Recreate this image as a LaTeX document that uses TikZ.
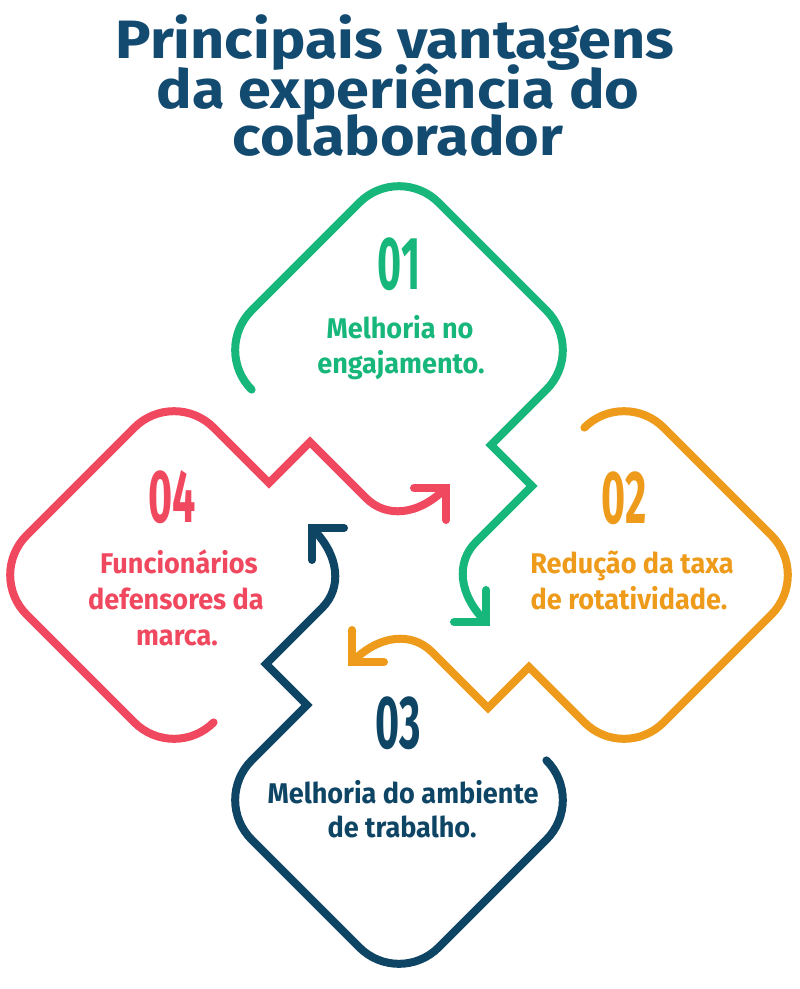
\documentclass[tikz,border=0pt]{standalone}
\usepackage{fontspec}
\setmainfont{Fira Sans}
\definecolor{greenc}{HTML}{17B67A}
\definecolor{orangec}{HTML}{EE9A1A}
\definecolor{redc}{HTML}{F0485E}
\definecolor{navyc}{HTML}{0E4565}
\definecolor{titlec}{HTML}{134A70}
\newcommand{\lx}[1]{\scalebox{0.95}[1]{#1}}
\newcommand{\nx}[1]{\scalebox{0.55}[1]{#1}}
\newcommand{\tx}[1]{\scalebox{1.1}[1]{#1}}
\tikzset{
  loopline/.style={line width=8pt, line cap=round, line join=miter, miter limit=10},
  pics/loopshape/.style={code={
    \draw[loopline, draw=#1]
      (-147.4,39.6) .. controls (-169.3,17.7) and (-169.3,-17.7) .. (-147.4,-39.6)
      -- (-39.6,-147.4) .. controls (-17.7,-169.3) and (17.7,-169.3) .. (39.6,-147.4)
      -- (147.4,-39.6) .. controls (169.3,-17.7) and (169.3,17.7) .. (147.4,39.6)
      -- (92,95) -- (133,136) -- (77,192) .. controls (57,212) and (59,244) .. (87,272);
    \draw[loopline, draw=#1] (87,240) -- (87,272) -- (55,272);
  }},
  titletext/.style={font=\fontsize{54}{54}\selectfont\bfseries, text=titlec, inner sep=0pt, anchor=base},
  numtext/.style={font=\fontsize{75}{75}\selectfont\bfseries, inner sep=0pt},
  lbltext/.style={font=\fontsize{28.5}{28.5}\selectfont\bfseries, inner sep=0pt, anchor=base},
}
\begin{document}
\begin{tikzpicture}[x=1pt, y=-1pt]
\useasboundingbox (0,0) rectangle (800,989);
% title
\node[titletext] (t1) at (395,58) {\tx{Principais vantagens}};
\node[titletext] (t2) at (398,108) {\tx{da experiência do}};
\node[titletext] (t3) at (398,155) {\tx{colaborador}};
% four loops
\pic at (399,350) {loopshape=greenc};
\pic[rotate=-90] at (624,575) {loopshape=orangec};
\pic[rotate=180] at (399,800) {loopshape=navyc};
\pic[rotate=90] at (174,575) {loopshape=redc};
% numbers
\node[numtext, text=greenc] (n1) at (399,264) {\nx{01}};
\node[numtext, text=orangec] (n2) at (624,498) {\nx{02}};
\node[numtext, text=navyc] (n3) at (398,723) {\nx{03}};
\node[numtext, text=redc] (n4) at (172,497) {\nx{04}};
% labels
\node[lbltext, text=greenc] (g1) at (400,338) {\lx{Melhoria no}};
\node[lbltext, text=greenc] (g2) at (401,373) {\lx{engajamento.}};
\node[lbltext, text=orangec] (o1) at (632,573) {\lx{Redução da taxa}};
\node[lbltext, text=orangec] (o2) at (629,609) {\lx{de rotatividade.}};
\node[lbltext, text=redc] (r1) at (179,573) {\lx{Funcionários}};
\node[lbltext, text=redc] (r2) at (176,609) {\lx{defensores da}};
\node[lbltext, text=redc] (r3) at (177,645) {\lx{marca.}};
\node[lbltext, text=navyc] (v1) at (403,803) {\lx{Melhoria do ambiente}};
\node[lbltext, text=navyc] (v2) at (402,837) {\lx{de trabalho.}};
\end{tikzpicture}
\end{document}
